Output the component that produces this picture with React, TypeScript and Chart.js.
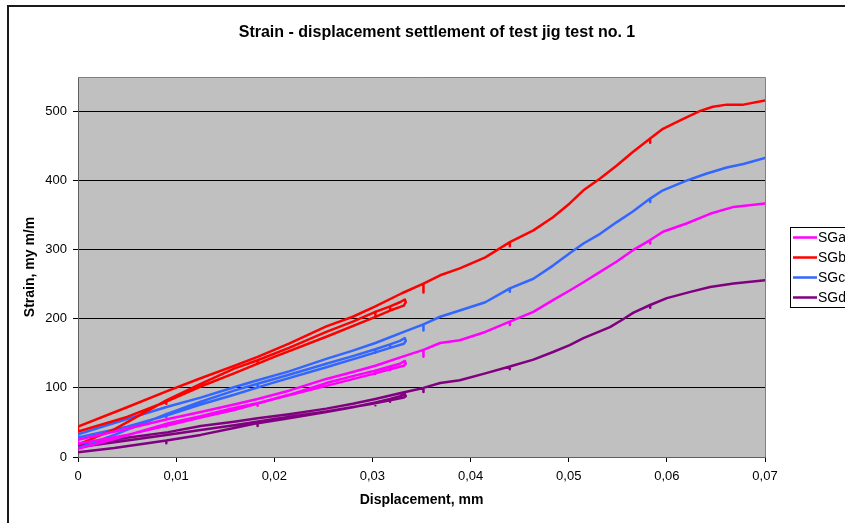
import { useEffect, useRef } from "react";
import { Chart, registerables } from "chart.js";

Chart.register(...registerables);

// Gauge readings: first loading to ~0.033 mm, unloading back to zero, then reloading to 0.07 mm.
// Repeated x values are short drop-outs recorded by the logger.
const sgaDisp = [
  0, 0.0037, 0.009, 0.009, 0.009, 0.0125, 0.0159, 0.0183, 0.0183, 0.0183, 0.0215, 0.0253, 0.028, 0.0303, 0.0303, 0.0303, 0.0318, 0.0318, 0.0318, 0.0328, 0.0333,
  0.0334, 0.0332, 0.0318, 0.03, 0.0253, 0.02, 0.0159, 0.0125, 0.009, 0.005, 0,
  0, 0.005, 0.0092, 0.0125, 0.0159, 0.0183, 0.0215, 0.0253, 0.028, 0.0303, 0.033, 0.0352, 0.0352, 0.0352,
  0.0369, 0.0389, 0.0415, 0.044, 0.044, 0.044, 0.0464, 0.0484, 0.0501, 0.0515, 0.0532, 0.0549, 0.0565, 0.0583, 0.0583, 0.0583, 0.0596, 0.062, 0.0644, 0.0668, 0.07,
];
const sgaStrain = [
  12, 26, 48, 44, 48, 59, 71, 78, 74, 78, 90, 107, 117, 125, 120, 125, 131, 126, 131, 135, 139,
  135, 132, 127, 120, 103, 84, 68, 57, 45, 32, 19,
  25, 41, 55, 65, 76, 84, 96, 113, 123, 132, 145, 155, 145, 155,
  165, 169, 181, 196, 191, 196, 210, 227, 241, 253, 268, 283, 299, 314, 309, 314, 326, 338, 352, 362, 367,
];

const sgbDisp = [
  0, 0.0037, 0.009, 0.009, 0.009, 0.0125, 0.0159, 0.0183, 0.0183, 0.0183, 0.0215, 0.0253, 0.028, 0.0303, 0.0303, 0.0303, 0.0318, 0.0318, 0.0318, 0.0328, 0.0333,
  0.0334, 0.0332, 0.0318, 0.03, 0.0253, 0.02, 0.0159, 0.0125, 0.009, 0.005, 0,
  0, 0.005, 0.0092, 0.0125, 0.0159, 0.0183, 0.0215, 0.0253, 0.028, 0.0303, 0.033, 0.0352, 0.0352, 0.0352,
  0.0369, 0.0389, 0.0415, 0.044, 0.044, 0.044, 0.0464, 0.0484, 0.0501, 0.0515, 0.0532, 0.0549, 0.0565, 0.0583, 0.0583, 0.0583, 0.0596, 0.0613, 0.0634, 0.0647, 0.0661, 0.0678, 0.07,
];
const sgbStrain = [
  18, 40, 82, 77, 82, 106, 128, 140, 135, 140, 158, 181, 196, 210, 204, 210, 218, 212, 218, 224, 228,
  224, 219, 212, 201, 174, 145, 121, 102, 80, 58, 37,
  44, 72, 96, 114, 132, 145, 164, 189, 203, 218, 237, 251, 238, 251,
  263, 273, 289, 311, 305, 311, 328, 347, 367, 386, 403, 422, 441, 461, 455, 461, 475, 487, 501, 507, 510, 510, 516,
];

const sgcDisp = [
  0, 0.0037, 0.009, 0.009, 0.009, 0.0125, 0.0159, 0.0183, 0.0183, 0.0183, 0.0215, 0.0253, 0.028, 0.0303, 0.0303, 0.0303, 0.0318, 0.0318, 0.0318, 0.0328, 0.0333,
  0.0334, 0.0332, 0.0318, 0.03, 0.0253, 0.02, 0.0159, 0.0125, 0.009, 0.005, 0,
  0, 0.005, 0.0092, 0.0125, 0.0159, 0.0183, 0.0215, 0.0253, 0.028, 0.0303, 0.033, 0.0352, 0.0352, 0.0352,
  0.0369, 0.0389, 0.0415, 0.044, 0.044, 0.044, 0.0464, 0.0484, 0.0501, 0.0515, 0.0532, 0.0549, 0.0565, 0.0583, 0.0583, 0.0583, 0.0596, 0.062, 0.064, 0.0661, 0.0678, 0.07,
];
const sgcStrain = [
  13, 32, 62, 58, 62, 80, 96, 106, 102, 106, 119, 135, 146, 156, 151, 156, 163, 158, 163, 168, 172,
  168, 164, 158, 150, 130, 108, 90, 76, 60, 44, 28,
  33, 55, 73, 86, 101, 111, 124, 142, 154, 165, 180, 192, 183, 192,
  203, 212, 224, 244, 239, 244, 258, 277, 295, 309, 323, 340, 355, 374, 369, 374, 386, 400, 410, 419, 424, 433,
];

const sgdDisp = [
  0, 0.0037, 0.009, 0.009, 0.009, 0.0125, 0.0159, 0.0183, 0.0183, 0.0183, 0.0215, 0.0253, 0.028, 0.0303, 0.0303, 0.0303, 0.0318, 0.0318, 0.0318, 0.0328, 0.0333,
  0.0334, 0.0332, 0.0318, 0.03, 0.0253, 0.02, 0.0159, 0.0125, 0.009, 0.005, 0,
  0, 0.005, 0.0092, 0.0125, 0.0159, 0.0183, 0.0215, 0.0253, 0.028, 0.0303, 0.033, 0.0352, 0.0352, 0.0352,
  0.0369, 0.0389, 0.0415, 0.044, 0.044, 0.044, 0.0464, 0.0484, 0.0501, 0.0515, 0.0542, 0.0555, 0.0566, 0.0583, 0.0583, 0.0583, 0.06, 0.0624, 0.0644, 0.0668, 0.07,
];
const sgdStrain = [
  7, 13, 24, 20, 24, 32, 42, 49, 45, 49, 56, 65, 72, 79, 75, 79, 84, 80, 84, 88, 91,
  88, 86, 82, 77, 66, 55, 46, 39, 32, 24, 14,
  17, 28, 36, 45, 51, 56, 62, 70, 77, 84, 93, 100, 94, 100,
  107, 111, 121, 131, 127, 131, 141, 152, 162, 172, 188, 199, 209, 220, 216, 220, 230, 239, 246, 251, 256,
];

const seriesLabels = ["SGa", "SGb", "SGc", "SGd"];
const seriesColors = ["#FF00FF", "#FF0000", "#3366FF", "#800080"];
const seriesDisp = [sgaDisp, sgbDisp, sgcDisp, sgdDisp];
const seriesStrain = [sgaStrain, sgbStrain, sgcStrain, sgdStrain];

const xTickValues = [0, 0.01, 0.02, 0.03, 0.04, 0.05, 0.06, 0.07];
const yTickValues = [0, 100, 200, 300, 400, 500];

const chartTitle = "Strain - displacement settlement of test jig test no. 1";
const xTitle = "Displacement, mm";
const yTitle = "Strain, my m/m";

const FONT = "'Liberation Sans', Arial, Helvetica, sans-serif";

// Grey plot area and white page behind the axes.
const backdrop = {
  id: "backdrop",
  beforeDraw(chart: any) {
    const { ctx, chartArea } = chart;
    ctx.save();
    ctx.fillStyle = "#FFFFFF";
    ctx.fillRect(0, 0, chart.width, chart.height);
    ctx.fillStyle = "#C0C0C0";
    ctx.fillRect(chartArea.left, chartArea.top, chartArea.right - chartArea.left, chartArea.bottom - chartArea.top);
    ctx.restore();
  },
};

// Outer frame, plot-area edges, title and the boxed legend.
const decorations = {
  id: "decorations",
  afterDraw(chart: any) {
    const { ctx, chartArea } = chart;
    ctx.save();

    ctx.strokeStyle = "#808080";
    ctx.lineWidth = 1;
    ctx.beginPath();
    ctx.moveTo(chartArea.left, chartArea.top + 0.5);
    ctx.lineTo(chartArea.right + 0.5, chartArea.top + 0.5);
    ctx.lineTo(chartArea.right + 0.5, chartArea.bottom);
    ctx.stroke();

    ctx.strokeStyle = "#1a1a1a";
    ctx.lineWidth = 2;
    ctx.strokeRect(8, 6, 900, 600);

    ctx.fillStyle = "#000";
    ctx.font = `bold 16px ${FONT}`;
    ctx.textAlign = "center";
    ctx.textBaseline = "middle";
    ctx.fillText(chartTitle, 437, 33);

    const lx = 790.5;
    const ly = 227.5;
    ctx.strokeStyle = "#000";
    ctx.lineWidth = 1;
    ctx.strokeRect(lx, ly, 120, 80);
    ctx.font = `14px ${FONT}`;
    ctx.textAlign = "left";
    chart.data.datasets.forEach((ds: any, i: number) => {
      const y = 237.5 + i * 20;
      ctx.strokeStyle = ds.borderColor;
      ctx.lineWidth = 2.5;
      ctx.beginPath();
      ctx.moveTo(793, y);
      ctx.lineTo(817, y);
      ctx.stroke();
      ctx.fillStyle = "#000";
      ctx.fillText(ds.label, 818, y + 1);
    });
    ctx.restore();
  },
};

function formatDisp(v: number) {
  if (Math.abs(v) < 1e-9) return "0";
  return (Math.round(v * 100) / 100).toFixed(2).replace(".", ",");
}

export default function App() {
  const canvasRef = useRef<HTMLCanvasElement | null>(null);

  useEffect(() => {
    if (!canvasRef.current) return;
    Chart.defaults.font.family = FONT;
    const datasets = seriesLabels.map((label, i) => ({
      label,
      data: seriesDisp[i].map((x, k) => ({ x, y: seriesStrain[i][k] })),
      borderColor: seriesColors[i],
      backgroundColor: seriesColors[i],
      borderWidth: 2.5,
      borderJoinStyle: "round" as const,
      borderCapStyle: "round" as const,
      pointRadius: 0,
      tension: 0,
      fill: false,
    }));

    const chart = new Chart(canvasRef.current, {
      type: "line",
      data: { datasets },
      options: {
        responsive: false,
        animation: false,
        layout: { padding: { left: 0, top: 77, right: 80, bottom: 0 } },
        plugins: {
          legend: { display: false },
          title: { display: false },
          tooltip: { enabled: false },
        },
        scales: {
          x: {
            type: "linear",
            min: 0,
            max: 0.07,
            afterBuildTicks: (scale: any) => {
              scale.ticks = xTickValues.map((value) => ({ value }));
            },
            afterFit: (scale: any) => {
              scale.height = 66;
            },
            ticks: {
              autoSkip: false,
              maxRotation: 0,
              padding: 7,
              color: "#000",
              font: { size: 13 },
              callback: (v: any) => formatDisp(Number(v)),
            },
            grid: { drawOnChartArea: false, drawTicks: true, tickLength: 5, tickColor: "#000" },
            border: { color: "#606060", width: 1 },
            title: {
              display: true,
              text: xTitle,
              color: "#000",
              font: { size: 14, weight: "bold" },
              padding: { top: 0, bottom: 14 },
            },
          },
          y: {
            type: "linear",
            min: 0,
            max: 550,
            afterBuildTicks: (scale: any) => {
              scale.ticks = yTickValues.map((value) => ({ value }));
            },
            afterFit: (scale: any) => {
              scale.width = 78;
            },
            ticks: {
              padding: 6,
              color: "#000",
              font: { size: 13 },
              callback: (v: any) => String(v),
            },
            grid: { color: "#000", lineWidth: 1, drawTicks: true, tickLength: 5, tickColor: "#000" },
            border: { color: "#606060", width: 1 },
            title: {
              display: true,
              text: yTitle,
              color: "#000",
              font: { size: 14, weight: "bold" },
              padding: { top: 22, bottom: 0 },
            },
          },
        },
      },
      plugins: [backdrop, decorations],
    });

    return () => chart.destroy();
  }, []);

  return (
    <div style={{ position: "fixed", left: 0, top: 0, width: 845, height: 523, background: "#fff" }}>
      <canvas ref={canvasRef} width={845} height={523} style={{ display: "block", width: 845, height: 523 }} />
    </div>
  );
}
